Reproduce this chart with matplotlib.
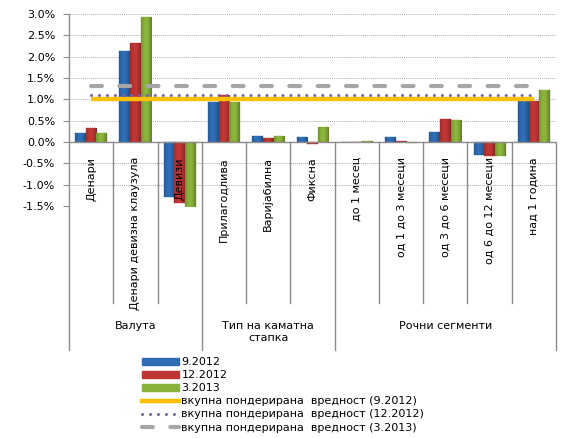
import numpy as np
import matplotlib
matplotlib.use("Agg")
import matplotlib.pyplot as plt
from matplotlib.patches import Patch
from matplotlib.lines import Line2D
from matplotlib.colors import to_rgb
import matplotlib.transforms as mtransforms

plt.rcParams['font.family'] = ['DejaVu Sans']
plt.rcParams['font.size'] = 8

# Категории и групи
categories = ["Денари", "Денари девизна клаузула", "Девизи",
              "Прилагодлива", "Варијабилна", "Фиксна",
              "до 1 месец", "од 1 до 3 месеци", "од 3 до 6 месеци",
              "од 6 до 12 месеци", "над 1 година"]
groups = ["Валута", "Тип на каматна\nстапка", "Рочни сегменти"]
group_sizes = [3, 3, 5]

series_names = ["9.2012", "12.2012", "3.2013"]
s_2012_09 = [0.22, 2.13, -1.29, 0.93, 0.13, 0.12, 0.01, 0.12, 0.24, -0.30, 0.97]
s_2012_12 = [0.32, 2.33, -1.44, 1.11, 0.10, -0.04, 0.01, 0.03, 0.55, -0.32, 0.95]
s_2013_03 = [0.20, 2.93, -1.52, 0.93, 0.13, 0.34, 0.02, -0.02, 0.52, -0.33, 1.21]

# Вкупна пондерирана вредност
total_2012_09 = 1.01
total_2012_12 = 1.09
total_2013_03 = 1.31

line_names = ["вкупна пондерирана  вредност (9.2012)",
              "вкупна пондерирана  вредност (12.2012)",
              "вкупна пондерирана  вредност (3.2013)"]

yticks = [-1.5, -1.0, -0.5, 0.0, 0.5, 1.0, 1.5, 2.0, 2.5, 3.0]

bar_colors = ["#2f6cb3", "#bd3634", "#8ab23b"]
axis_gray = "#8c8c8c"

W, H = 569, 438
fig = plt.figure(figsize=(W / 100, H / 100), dpi=100)
ax = fig.add_axes([69 / W, 1 - 206 / H, (556 - 69) / W, (206 - 14) / H])

n = len(categories)
x = np.arange(n)
bw = 0.24
series = [s_2012_09, s_2012_12, s_2013_03]


def shaded(color, nstep=40):
    """Horizontal cylinder-like shading of a bar colour."""
    base = np.array(to_rgb(color))
    t = np.linspace(0, 1, nstep)
    f = 0.72 + 0.36 * np.sin(np.pi * (0.15 + 0.7 * t)) ** 1.5
    f = f - 0.12 * t
    rgb = np.clip(base[None, :] * f[:, None], 0, 1)
    return rgb[None, :, :]


for k, (vals, col) in enumerate(zip(series, bar_colors)):
    bars = ax.bar(x + (k - 1) * bw, vals, width=bw, color=col,
                  edgecolor=col, linewidth=0.3, zorder=3)
    for b in bars:
        x0, w, h = b.get_x(), b.get_width(), b.get_height()
        if abs(h) < 1e-9:
            continue
        img = ax.imshow(shaded(col), extent=[x0, x0 + w, min(0, h), max(0, h)],
                        aspect='auto', interpolation='bilinear', zorder=3.5)
        img.set_clip_path(b)

# Хоризонтални линии за вкупна вредност
ax.plot(x, [total_2012_09] * n, color="#ffc000", lw=3.2, solid_capstyle='butt', zorder=4)
ax.plot(x, [total_2012_12] * n, color="#7f5fa8", lw=2.2,
        linestyle=(0, (0.01, 2.6)), dash_capstyle='round', zorder=4.2)
ax.plot(x, [total_2013_03] * n, color="#a6a6a6", lw=3,
        linestyle=(0, (2.6, 4.2)), dash_capstyle='round', zorder=4.1)

ax.set_xlim(-0.5, n - 0.5)
ax.set_ylim(-1.5, 3.0)
ax.set_yticks(yticks)
ax.set_yticklabels([f"{v:.1f}%" for v in yticks])
ax.tick_params(axis='y', length=4, color=axis_gray, pad=6, labelsize=8)
ax.tick_params(axis='x', bottom=False, labelbottom=False)
ax.yaxis.grid(True, linestyle=(0, (1, 1)), color="#a8a8a8", lw=0.7)
ax.set_axisbelow(True)
for s in ["top", "right", "bottom", "left"]:
    ax.spines[s].set_visible(False)

ax.axhline(0, color=axis_gray, lw=1, zorder=5)

trans = mtransforms.blended_transform_factory(ax.transData, ax.transAxes)
y_zero = 1.5 / 4.5
y_sep_short = (206 - 303) / 192
y_sep_long = (206 - 350) / 192

# Граници меѓу категории и групи
bounds = np.cumsum([0] + group_sizes) - 0.5
for b in np.arange(n + 1) - 0.5:
    if b in bounds:
        top = 1.0 if b == bounds[0] else y_zero
        ax.plot([b, b], [top, y_sep_long], transform=trans, color=axis_gray,
                lw=1, clip_on=False, zorder=5)
    else:
        ax.plot([b, b], [y_zero, y_sep_short], transform=trans, color=axis_gray,
                lw=1, clip_on=False, zorder=5)

# Имиња на категории
y_lab = (206 - 157) / 192
for xi, name in zip(x, categories):
    ax.text(xi, y_lab, name, rotation=90, ha='center', va='top',
            transform=trans, fontsize=8, zorder=6, clip_on=False)

# Имиња на групи
for g, name in enumerate(groups):
    cx = (bounds[g] + bounds[g + 1]) / 2
    ax.text(cx, (206 - 321) / 192, name, ha='center', va='top',
            transform=trans, fontsize=8, multialignment='center',
            linespacing=1.2, clip_on=False)

# Легенда
handles = [Patch(facecolor=c, edgecolor=c) for c in bar_colors]
handles += [
    Line2D([], [], color="#ffc000", lw=3.2),
    Line2D([], [], color="#7f5fa8", lw=2.2, linestyle=(0, (0.01, 2.6)),
           dash_capstyle='round'),
    Line2D([], [], color="#a6a6a6", lw=3, linestyle=(0, (2.6, 4.2)),
           dash_capstyle='round'),
]
labels = series_names + line_names
fig.legend(handles, labels, loc='upper left',
           bbox_to_anchor=(142 / W, 1 - 357 / H), frameon=False,
           fontsize=8, handlelength=3.3, handleheight=0.6,
           handletextpad=0.25, labelspacing=0.28, borderpad=0,
           borderaxespad=0)

fig.savefig("out.png", dpi=100)
